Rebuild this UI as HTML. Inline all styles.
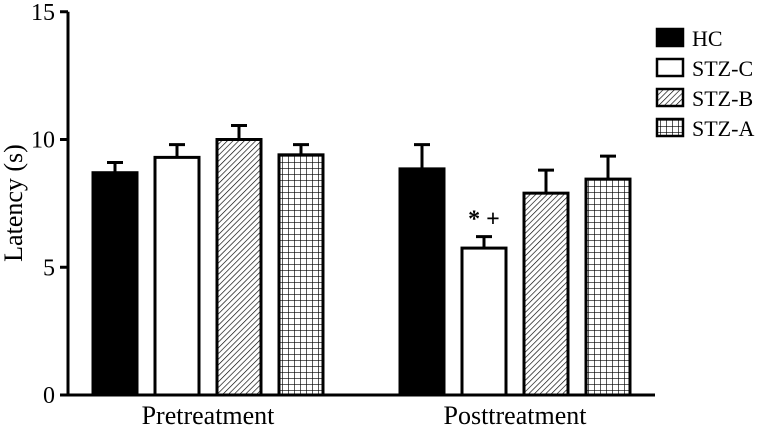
<!DOCTYPE html>
<html><head><meta charset="utf-8"><style>body{margin:0;background:#fff}svg{display:block}text{font-family:"Liberation Serif",serif;fill:#000}</style></head>
<body>
<svg width="767" height="429">
<defs>
<pattern id="hatch" patternUnits="userSpaceOnUse" width="4" height="4" patternTransform="rotate(45)"><rect width="4" height="4" fill="#fff"/><line x1="0" y1="0" x2="0" y2="4" stroke="#000" stroke-width="1.3"/></pattern>
<pattern id="grid" patternUnits="userSpaceOnUse" width="6" height="6"><rect width="6" height="6" fill="#fff"/><path d="M0 0H6M0 0V6" stroke="#000" stroke-width="1.3" fill="none"/></pattern>
</defs>
<g id="chart"></g>
</svg>
<script>
const groups=["Pretreatment","Posttreatment"];
const series=["HC","STZ-C","STZ-B","STZ-A"];
const means=[[8.7,9.3,10.0,9.4],[8.85,5.75,7.9,8.45]];
const errs=[[0.4,0.5,0.55,0.4],[0.95,0.45,0.9,0.9]];
const yTicks=[0,5,10,15];
const fills=["#000","#fff","url(#hatch)","url(#grid)"];
const NS="http://www.w3.org/2000/svg";
const g=document.getElementById('chart');
function y(v){return 395-v*25.55;}
function el(t,a,txt){const e=document.createElementNS(NS,t);for(const k in a)e.setAttribute(k,a[k]);if(txt!==undefined)e.textContent=txt;g.appendChild(e);return e;}
const groupStart=[93,400];
groups.forEach((gn,gi)=>{
  series.forEach((s,si)=>{
    const x=groupStart[gi]+si*62, w=44, m=means[gi][si], e=errs[gi][si];
    const ln=el('path',{d:`M${x+w/2} ${y(m)}V${y(m+e)}M${x+w/2-8} ${y(m+e)}H${x+w/2+8}`,stroke:'#000','stroke-width':3,fill:'none'});
    
    
    const r=el('rect',{x:x,y:y(m),width:w,height:y(0)-y(m),fill:fills[si],stroke:'#000','stroke-width':3});
    
    
  });
  const t=el('text',{x:groupStart[gi]+115,y:424,'font-size':26,'text-anchor':'middle'},gn);
  
  
});
const sig=el('text',{x:484,y:y(means[1][1]+errs[1][1])-10,'font-size':24,'font-weight':'bold','text-anchor':'middle'},"* +");


const ax=el('path',{d:`M68 ${y(15)}V${y(0)}H655`,stroke:'#000','stroke-width':3,fill:'none'});


yTicks.forEach(v=>{
  const tk=el('path',{d:`M60 ${y(v)}H68`,stroke:'#000','stroke-width':3});
  
  
  const tl=el('text',{x:55,y:y(v)+8,'font-size':24,'text-anchor':'end'},v);
  
  
});
const yt=el('text',{transform:'translate(22,203) rotate(-90)','font-size':26,'text-anchor':'middle'},"Latency (s)");


series.forEach((s,si)=>{
  const ly=29+si*30;
  const b=el('rect',{x:657,y:ly,width:26,height:17,fill:fills[si],stroke:'#000','stroke-width':2.5});
  
  
  const t=el('text',{x:692,y:ly+17,'font-size':22},s);
  
  
});
</script>
</body></html>
